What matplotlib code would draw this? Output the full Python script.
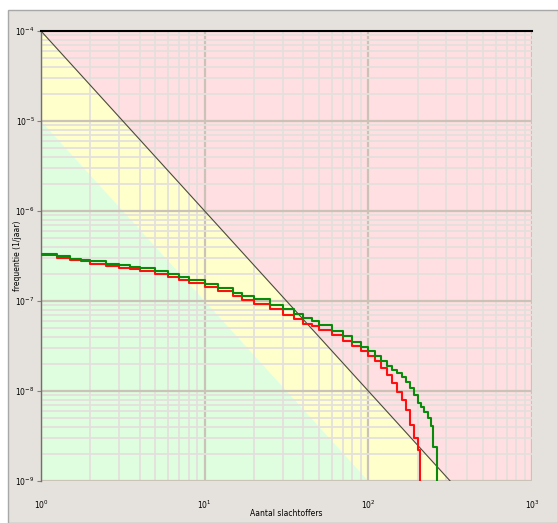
import matplotlib
matplotlib.use("Agg")
import matplotlib.pyplot as plt
from matplotlib.patches import Rectangle
import numpy as np

# ---- data ----
green_x = [1, 1.25, 1.5, 1.75, 2, 2.5, 3, 3.5, 4, 5, 6, 7, 8, 10, 12, 15, 17, 20, 25, 30, 35,
           40, 45, 50, 60, 70, 80, 90, 100, 110, 120, 130, 140, 150, 160, 170, 180, 190,
           200, 210, 220, 230, 240, 250, 262]
green_y = [3.37e-7, 3.16e-7, 2.96e-7, 2.86e-7, 2.75e-7, 2.61e-7, 2.48e-7, 2.39e-7, 2.30e-7,
           2.15e-7, 2.0e-7, 1.85e-7, 1.71e-7, 1.55e-7, 1.39e-7, 1.24e-7, 1.14e-7, 1.05e-7,
           9.03e-8, 8.05e-8, 7.18e-8, 6.40e-8, 5.92e-8, 5.48e-8, 4.70e-8, 4.08e-8, 3.50e-8,
           3.08e-8, 2.75e-8, 2.45e-8, 2.15e-8, 1.90e-8, 1.71e-8, 1.58e-8, 1.43e-8, 1.26e-8,
           1.08e-8, 9.0e-9, 7.36e-9, 6.64e-9, 5.85e-9, 5.0e-9, 4.08e-9, 2.39e-9, 1e-12]

red_x = [1, 1.25, 1.5, 1.75, 2, 2.5, 3, 3.5, 4, 5, 6, 7, 8, 10, 12, 15, 17, 20, 25, 30, 35,
         40, 45, 50, 60, 70, 80, 90, 100, 110, 120, 130, 140, 150, 160, 170, 180, 190,
         200, 208]
red_y = [3.24e-7, 3.04e-7, 2.86e-7, 2.75e-7, 2.61e-7, 2.45e-7, 2.33e-7, 2.24e-7, 2.15e-7,
         2.0e-7, 1.85e-7, 1.71e-7, 1.58e-7, 1.43e-7, 1.29e-7, 1.14e-7, 1.03e-7, 9.26e-8,
         8.05e-8, 6.99e-8, 6.31e-8, 5.62e-8, 5.21e-8, 4.82e-8, 4.19e-8, 3.64e-8, 3.16e-8,
         2.78e-8, 2.45e-8, 2.15e-8, 1.80e-8, 1.51e-8, 1.23e-8, 9.75e-9, 7.94e-9, 6.15e-9,
         4.19e-9, 3.0e-9, 2.21e-9, 1e-12]

# criterion lines: F = C / N^2
upper_C = 1e-4
lower_C = 1e-5
slope = -2

x_ticks = [1, 10, 100, 1000]
x_labels = ["$10^{0}$", "$10^{1}$", "$10^{2}$", "$10^{3}$"]
y_ticks = [1e-9, 1e-8, 1e-7, 1e-6, 1e-5, 1e-4]
y_labels = ["$10^{-9}$", "$10^{-8}$", "$10^{-7}$", "$10^{-6}$", "$10^{-5}$", "$10^{-4}$"]

W, H = 558, 523
fig = plt.figure(figsize=(W / 100, H / 100), dpi=100, facecolor="white")

# grey panel
panel = Rectangle((8 / W, 0), 1 - 8 / W, 1 - 10 / H, transform=fig.transFigure,
                  facecolor="#e5e2dd", edgecolor="#a8a8a8", linewidth=1.0, zorder=-10)
fig.patches.append(panel)

L, R, T, B = 41, 532, 31, 481
ax = fig.add_axes([L / W, 1 - B / H, (R - L) / W, (B - T) / H])
ax.set_xscale("log")
ax.set_yscale("log")
xmin, xmax = 1, 1000
ymin, ymax = 1e-9, 1e-4
ax.set_xlim(xmin, xmax)
ax.set_ylim(ymin, ymax)

xs = np.array([xmin, xmax], dtype=float)
up = upper_C * xs ** slope
lo = lower_C * xs ** slope
ax.fill_between(xs, up, ymax, color="#ffdfe1", lw=0, zorder=0.1)
ax.fill_between(xs, lo, up, color="#ffffcb", lw=0, zorder=0.1)
ax.fill_between(xs, ymin / 10, lo, color="#defedf", lw=0, zorder=0.1)
ax.plot(xs, up, color="#4a4a3a", lw=0.8, zorder=2)

ax.set_axisbelow(True)
ax.grid(True, which="minor", color="#e4e0dc", lw=1.3)
ax.grid(True, which="major", color="#cbc2b8", lw=1.6)

ax.plot(red_x, red_y, drawstyle="steps-post", color="#ff1010", lw=1.5, zorder=3)
ax.plot(green_x, green_y, drawstyle="steps-post", color="#0a8a0a", lw=1.5, zorder=4)

ax.set_xticks(x_ticks)
ax.set_xticklabels(x_labels, fontsize=5.5)
ax.set_yticks(y_ticks)
ax.set_yticklabels(y_labels, fontsize=5.5)
ax.tick_params(axis="x", which="major", length=0, pad=13)
ax.tick_params(axis="y", which="major", length=3, color="#808080", pad=1.5)
ax.tick_params(which="minor", length=0)

for s in ["bottom", "right"]:
    ax.spines[s].set_visible(False)
ax.spines["left"].set_color("#707070")
ax.spines["left"].set_linewidth(1.0)
ax.spines["top"].set_color("black")
ax.spines["top"].set_linewidth(1.5)

ax.set_xlabel("Aantal slachtoffers", fontsize=5.5)
ax.xaxis.set_label_coords(0.5, (B - 513) / (B - T), transform=ax.transAxes)
ax.xaxis.label.set_va("center")
ax.set_ylabel("frequentie (1/jaar)", fontsize=5.5)
ax.yaxis.set_label_coords((18 - L) / (R - L), 0.5, transform=ax.transAxes)
ax.yaxis.label.set_va("center")

fig.savefig("out.png", dpi=100, facecolor=fig.get_facecolor())
